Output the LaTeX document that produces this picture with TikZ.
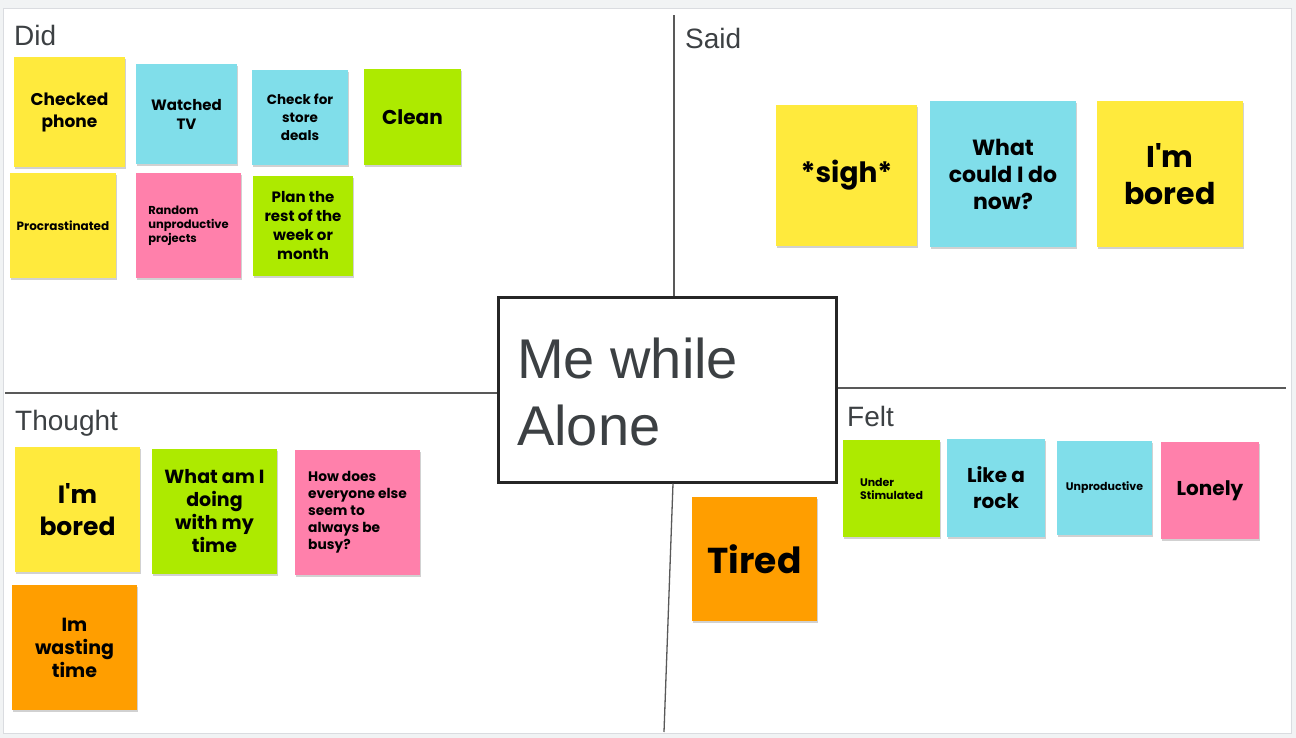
\documentclass[tikz,border=0pt]{standalone}
\usepackage{fontspec}
\usetikzlibrary{shadows}
\setmainfont{Liberation Sans}
\newfontfamily\notefont{Poppins}
\newfontfamily\headfont{Liberation Sans}
\definecolor{bgc}{HTML}{F1F3F4}
\definecolor{boardline}{HTML}{DADCE0}
\definecolor{headc}{HTML}{3C4043}
\definecolor{sy}{HTML}{FFEA3D}
\definecolor{sc}{HTML}{80DEEA}
\definecolor{sg}{HTML}{ADEA00}
\definecolor{sp}{HTML}{FF80AB}
\definecolor{so}{HTML}{FF9E00}
\tikzset{
  note/.style={rectangle, inner sep=0pt, align=center, text=black,
    font=\notefont\bfseries,
    drop shadow={shadow xshift=0.5pt, shadow yshift=-2pt, fill=black, opacity=0.18}},
  head/.style={anchor=base west, inner sep=0pt, text=headc},
  axis/.style={draw=black!65, line width=1.3pt},
}
\newcommand{\fsz}[2]{\fontsize{#1}{#2}\selectfont}
\begin{document}
\begin{tikzpicture}[x=1pt,y=-1pt]
\fill[bgc] (0,0) rectangle (1296,738);
\useasboundingbox (0,0) rectangle (1296,738);
\fill[white, draw=boardline, line width=1pt] (3,9) rectangle (1291,733);

% center box
\node[draw=black!85, line width=3pt, fill=white, minimum width=338pt, minimum height=185pt, inner sep=0pt] (center) at (667,390) {};
\node[anchor=base west, inner sep=0pt, text=headc, align=left, font=\headfont\fsz{56}{67}] (centertext) at (517,445) {Me while\\Alone};

% quadrant lines
\coordinate (topend) at (674,15);
\coordinate (leftend) at (5,393);
\coordinate (rightend) at (1286,388);
\coordinate (botend) at (664,732);
\draw[axis] (center.north -| topend) -- (topend);
\draw[axis] (leftend) -- (center.west |- leftend);
\draw[axis] (center.east |- rightend) -- (rightend);
\draw[axis] (673,483.5) -- (botend);

% headings
\node[head, font=\headfont\fsz{28}{32}] (did) at (14,46) {Did};
\node[head, font=\headfont\fsz{28}{32}] (said) at (685,49) {Said};
\node[head, font=\headfont\fsz{28}{32}] (thought) at (15,430) {Thought};
\node[head, font=\headfont\fsz{28}{32}] (felt) at (847,426) {Felt};

% Did
\node[note, fill=sy, minimum width=111pt, minimum height=110pt, font=\notefont\bfseries\fsz{17}{22}] (n1) at (69.5,112) {Checked\\phone};
\node[note, fill=sc, minimum width=101pt, minimum height=100pt, font=\notefont\bfseries\fsz{15}{19}] (n2) at (186.5,114) {Watched\\TV};
\node[note, fill=sc, minimum width=96pt, minimum height=95pt, font=\notefont\bfseries\fsz{13.5}{18}] (n3) at (300,117.5) {Check for\\store\\deals};
\node[note, fill=sg, minimum width=97pt, minimum height=96pt, font=\notefont\bfseries\fsz{20}{24}] (n4) at (412.5,117) {Clean};
\node[note, fill=sy, minimum width=106pt, minimum height=105pt, font=\notefont\bfseries\fsz{12}{14}] (n5) at (63,225.5) {Procrastinated};
\node[note, fill=sp, minimum width=105pt, minimum height=105pt, align=left, font=\notefont\bfseries\fsz{11.5}{14}] (n6) at (188.5,225.5) {Random\\unproductive\\projects};
\node[note, fill=sg, minimum width=100pt, minimum height=100pt, font=\notefont\bfseries\fsz{15}{19}] (n7) at (303,226) {Plan the\\rest of the\\week or\\month};

% Said
\node[note, fill=sy, minimum width=141pt, minimum height=141pt, font=\notefont\bfseries\fsz{28}{34}] (s1) at (846.5,175.5) {*sigh*};
\node[note, fill=sc, minimum width=146pt, minimum height=146pt, font=\notefont\bfseries\fsz{22}{27}] (s2) at (1003,174) {What\\could I do\\now?};
\node[note, fill=sy, minimum width=146pt, minimum height=146pt, font=\notefont\bfseries\fsz{30}{37}] (s3) at (1170,174) {I'm\\bored};

% Thought
\node[note, fill=sy, minimum width=125pt, minimum height=125pt, font=\notefont\bfseries\fsz{25}{32}] (t1) at (77.5,509.5) {I'm\\bored};
\node[note, fill=sg, minimum width=125pt, minimum height=125pt, font=\notefont\bfseries\fsz{19}{23}] (t2) at (214.5,511.5) {What am I\\doing\\with my\\time};
\node[note, fill=sp, minimum width=125pt, minimum height=125pt, align=left, font=\notefont\bfseries\fsz{13.8}{17}] (t3) at (357.5,512.5) {How does\\everyone else\\seem to\\always be\\busy?};
\node[note, fill=so, minimum width=125pt, minimum height=125pt, font=\notefont\bfseries\fsz{19}{23}] (t4) at (74.5,647.5) {Im\\wasting\\time};

% Felt
\node[note, fill=so, minimum width=125pt, minimum height=124pt, font=\notefont\bfseries\fsz{36}{40}] (f1) at (754.5,559) {Tired};
\node[note, fill=sg, minimum width=97pt, minimum height=97pt, align=left, font=\notefont\bfseries\fsz{11}{13}] (f2) at (891.5,488.5) {Under\\Stimulated};
\node[note, fill=sc, minimum width=98pt, minimum height=98pt, font=\notefont\bfseries\fsz{20}{26}] (f3) at (996,488) {Like a\\rock};
\node[note, fill=sc, minimum width=95pt, minimum height=94pt, font=\notefont\bfseries\fsz{11}{13}] (f4) at (1104.5,488) {Unproductive};
\node[note, fill=sp, minimum width=98pt, minimum height=97pt, font=\notefont\bfseries\fsz{20}{24}] (f5) at (1210,490.5) {Lonely};
\end{tikzpicture}
\end{document}
